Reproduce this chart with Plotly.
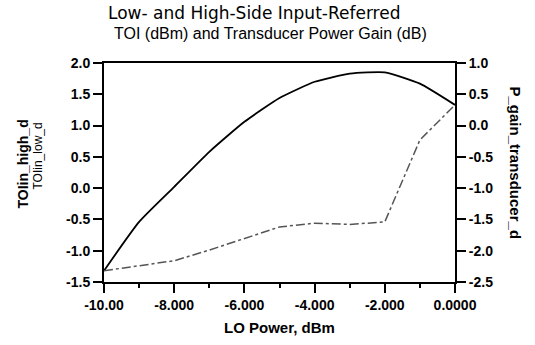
import plotly.graph_objects as go

lo_power = [-10, -9, -8, -7, -6, -5, -4, -3, -2, -1, 0]
toi_high = [-1.32, -0.54, 0.02, 0.58, 1.06, 1.44, 1.70, 1.83, 1.85, 1.67, 1.33]
p_gain = [-2.32, -2.24, -2.16, -1.99, -1.80, -1.62, -1.56, -1.58, -1.54, -0.23, 0.33]

x_tickvals = [-10, -8, -6, -4, -2, 0]
x_ticktext = ["-10.00", "-8.000", "-6.000", "-4.000", "-2.000", "0.0000"]
y1_tickvals = [2.0, 1.5, 1.0, 0.5, 0.0, -0.5, -1.0, -1.5]
y2_tickvals = [1.0, 0.5, 0.0, -0.5, -1.0, -1.5, -2.0, -2.5]

FONT = "Liberation Sans, Arial, sans-serif"
tickfont = dict(family=FONT, size=14, color="black", weight="bold")

fig = go.Figure()
fig.add_trace(go.Scatter(x=lo_power, y=toi_high, mode="lines", name="TOIin_high_d",
                         line=dict(color="black", width=1.8, shape="spline", smoothing=0.5),
                         yaxis="y"))
fig.add_trace(go.Scatter(x=lo_power, y=p_gain, mode="lines", name="P_gain_transducer_d",
                         line=dict(color="#555555", width=1.5, dash="dashdot"), yaxis="y2"))

fig.update_layout(
    width=535, height=345,
    margin=dict(l=104, r=80, t=63, b=63),
    paper_bgcolor="white", plot_bgcolor="white",
    showlegend=False,
    xaxis=dict(range=[-10, 0], tickvals=x_tickvals, ticktext=x_ticktext,
               showline=True, linecolor="black", linewidth=2, mirror=True,
               ticks="outside", ticklen=9, tickwidth=1.5, tickcolor="black",
               minor=dict(dtick=1, tick0=0, ticks="outside", ticklen=4, tickcolor="black"),
               showgrid=False, zeroline=False, tickfont=tickfont),
    yaxis=dict(range=[-1.5, 2.0], tickvals=y1_tickvals,
               ticktext=[f"{v:.1f}" for v in y1_tickvals],
               showline=True, linecolor="black", linewidth=2,
               ticks="outside", ticklen=9, tickwidth=1.5, tickcolor="black",
               showgrid=False, zeroline=False, tickfont=tickfont),
    yaxis2=dict(range=[-2.5, 1.0], tickvals=y2_tickvals,
                ticktext=[f"{v:.1f}" for v in y2_tickvals],
                overlaying="y", side="right",
                showline=True, linecolor="black", linewidth=2,
                ticks="outside", ticklen=9, tickwidth=1.5, tickcolor="black",
                showgrid=False, zeroline=False, tickfont=tickfont),
)

fig.add_annotation(text="Low- and High-Side Input-Referred", xref="paper", yref="paper",
                   x=0, xshift=3, y=1.0, yshift=50, xanchor="left", yanchor="middle",
                   borderpad=0, showarrow=False,
                   font=dict(family="DejaVu Sans", size=17, color="black"))
fig.add_annotation(text="TOI (dBm) and Transducer Power Gain (dB)", xref="paper", yref="paper",
                   x=0, xshift=9, y=1.0, yshift=30, xanchor="left", yanchor="middle",
                   borderpad=0, showarrow=False,
                   font=dict(family=FONT, size=16, color="black"))
fig.add_annotation(text="LO Power, dBm", xref="paper", yref="paper",
                   x=0.5, y=0, yshift=-45, xanchor="center", yanchor="middle",
                   showarrow=False, font=dict(family=FONT, size=15, color="black", weight="bold"))
fig.add_annotation(text="TOIin_high_d", xref="paper", yref="paper",
                   x=0, xshift=-82, y=0.5, yshift=8, textangle=-90,
                   xanchor="center", yanchor="middle", showarrow=False,
                   font=dict(family=FONT, size=14, color="black", weight="bold"))
fig.add_annotation(text="TOIin_low_d", xref="paper", yref="paper",
                   x=0, xshift=-67, y=0.5, yshift=16, textangle=-90,
                   xanchor="center", yanchor="middle", showarrow=False,
                   font=dict(family=FONT, size=12, color="black"))
fig.add_annotation(text="P_gain_transducer_d", xref="paper", yref="paper",
                   x=1, xshift=60, y=0.5, yshift=10, textangle=90,
                   xanchor="center", yanchor="middle", showarrow=False,
                   font=dict(family=FONT, size=15, color="black", weight="bold"))

fig.write_html("out.html")
